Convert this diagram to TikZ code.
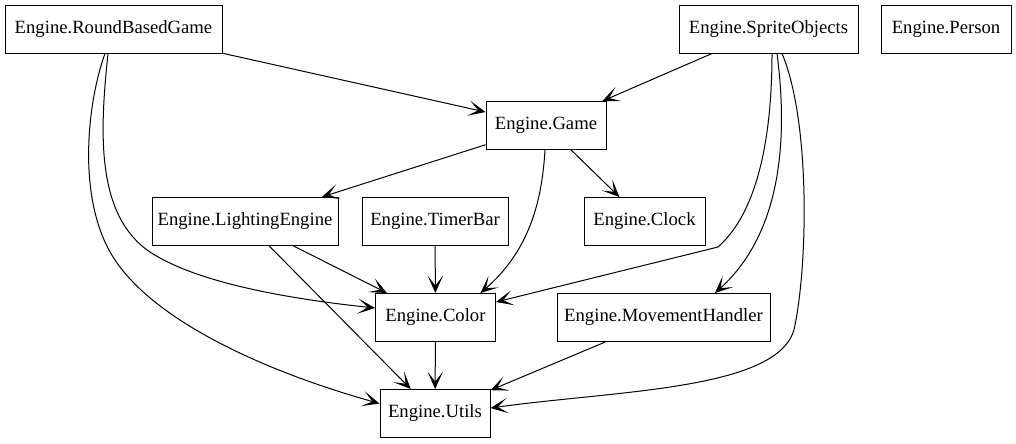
\documentclass[tikz,border=0pt]{standalone}
\usepackage{fontspec}
\setmainfont{Liberation Serif}
\usetikzlibrary{arrows.meta,calc}
\begin{document}
\begin{tikzpicture}[x=0.75pt,y=-0.75pt,
  box/.style={draw,line width=0.75pt,minimum height=36pt,inner sep=0pt,font=\fontsize{14}{16}\selectfont},
  edge/.style={line width=0.75pt,-{Stealth[length=13pt,width=11.5pt,inset=7.5pt]}}]
\useasboundingbox (0,0) rectangle (1016,443);
\node[box,minimum width=162.75pt] (rbg) at (113.5,29) {Engine.RoundBasedGame};
\node[box,minimum width=134.25pt] (sprite) at (768.5,29) {Engine.SpriteObjects};
\node[box,minimum width=97.5pt] (person) at (946,29) {Engine.Person};
\node[box,minimum width=90pt] (game) at (546,125.5) {Engine.Game};
\node[box,minimum width=139.5pt] (lighting) at (245,221.5) {Engine.LightingEngine};
\node[box,minimum width=109.5pt] (timer) at (435,221.5) {Engine.TimerBar};
\node[box,minimum width=90.75pt] (clock) at (644.5,221.5) {Engine.Clock};
\node[box,minimum width=90pt] (color) at (435.5,317.5) {Engine.Color};
\node[box,minimum width=159.75pt] (movement) at (663.5,317.5) {Engine.MovementHandler};
\node[box,minimum width=82.5pt] (utils) at (435,413.5) {Engine.Utils};

\draw[edge] (rbg) -- (game);
\draw[edge] ($(rbg.south)+(-5.5,0)$) .. controls (100,130) and (95,215) .. (150,252) .. controls (200,285) and (300,300) .. ($(color.west)+(0,-9.5)$);
\draw[edge] ($(rbg.south)+(-8.5,0)$) .. controls (88,100) and (75,200) .. (115,260) .. controls (155,320) and (260,370) .. ($(utils.west)+(0,-10)$);
\draw[edge] (game) -- (lighting);
\draw[edge] ($(game.south)+(-1,0)$) .. controls (542,200) and (530,250) .. ($(color.north)+(45,0)$);
\draw[edge] (game) -- (clock);
\draw[edge] (sprite) -- (game);
\draw[edge] ($(sprite.south)+(3.5,0)$) .. controls (772,130) and (760,210) .. (718,247) -- ($(color.east)+(0,-15.5)$);
\draw[edge] ($(sprite.south)+(8.5,0)$) .. controls (787,130) and (785,230) .. ($(movement.north)+(51.5,0)$);
\draw[edge] ($(sprite.south)+(13.5,0)$) .. controls (810,120) and (808,260) .. (795,325) .. controls (785,390) and (620,390) .. ($(utils.east)+(0,-5.5)$);
\draw[edge] (lighting) -- (color);
\draw[edge] (lighting) -- (utils);
\draw[edge] (timer) -- (color);
\draw[edge] (color) -- (utils);
\draw[edge] (movement) -- (utils);
\end{tikzpicture}
\end{document}
